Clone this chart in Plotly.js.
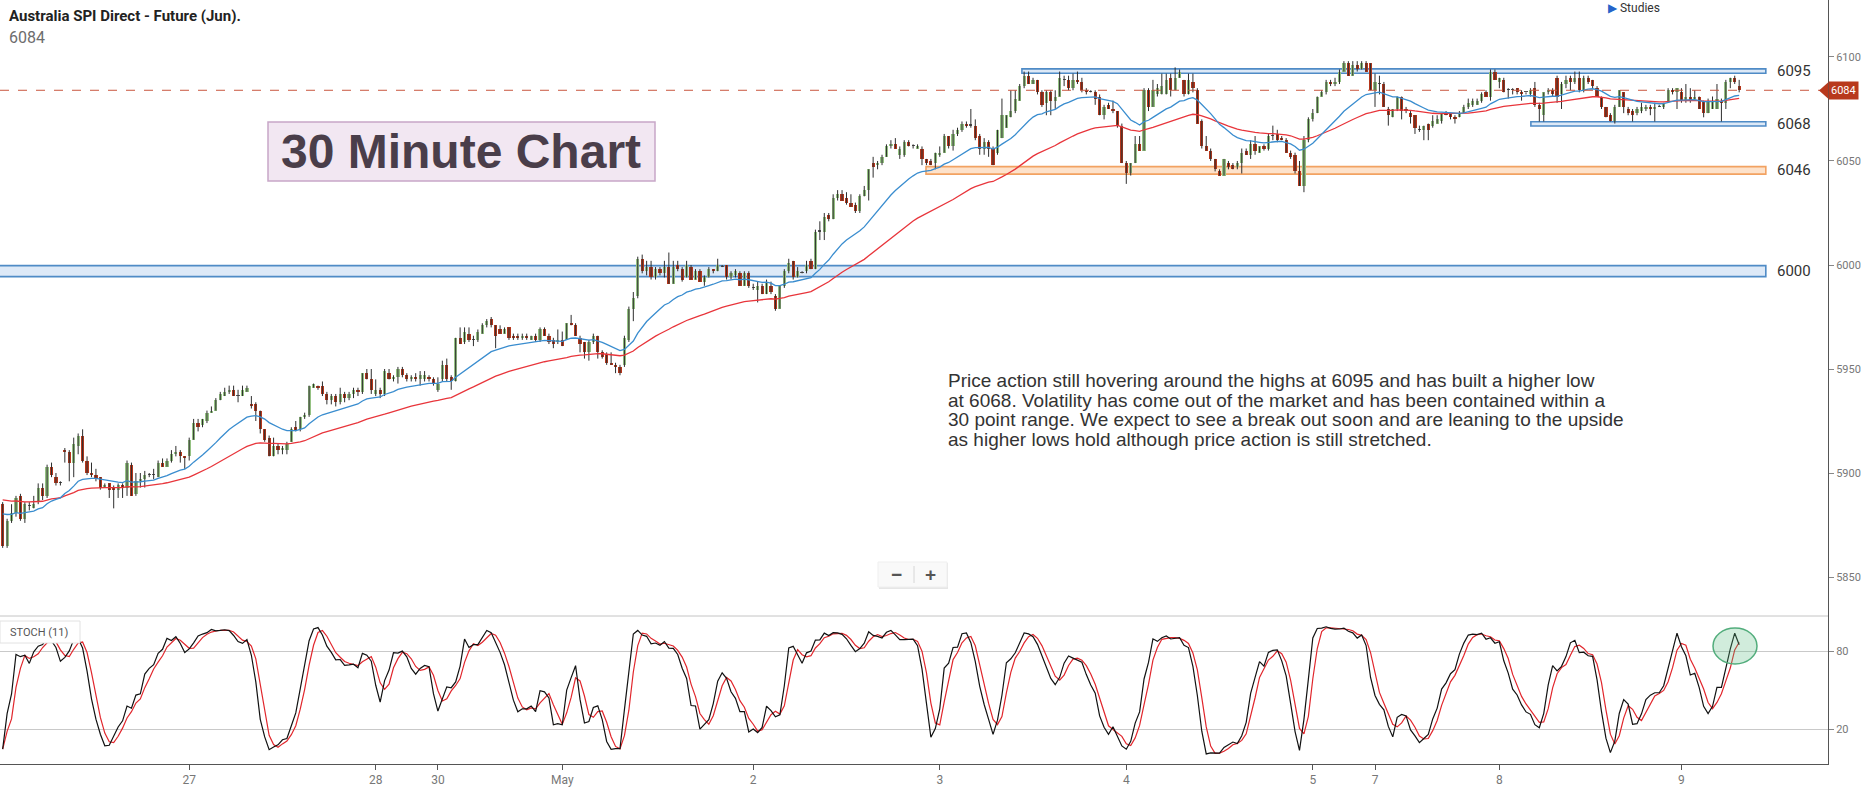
<!DOCTYPE html>
<html><head><meta charset="utf-8">
<script src="https://cdn.plot.ly/plotly-3.0.1.min.js"></script>
<style>html,body{margin:0;padding:0;background:#fff;overflow:hidden}#chart{width:1869px;height:793px}</style>
</head><body><div id="chart"></div>
<script>
// ---- 30-minute bars, Australia SPI 200 futures (Jun) ----
const opens = [
5885,5865,5877,5881,5889,5878,5884,5883,5886,5893,
5889,5903,5898,5895,5911,5910,5905,5913,5918,5906,
5900,5899,5898,5893,5895,5893,5892,5894,5893,5904,
5890,5896,5897,5899,5899,5898,5905,5903,5906,5909,
5910,5908,5908,5916,5924,5923,5925,5929,5930,5935,
5937,5939,5940,5937,5937,5939,5933,5933,5930,5921,
5917,5908,5913,5911,5911,5915,5922,5921,5927,5928,
5941,5942,5942,5938,5935,5937,5934,5938,5936,5938,
5940,5939,5948,5945,5938,5940,5938,5948,5945,5946,
5950,5947,5945,5946,5945,5945,5946,5945,5940,5945,
5952,5946,5944,5965,5963,5967,5964,5964,5967,5971,
5974,5971,5969,5967,5970,5966,5966,5965,5966,5964,
5966,5964,5969,5966,5964,5963,5964,5964,5972,5971,
5965,5963,5958,5963,5966,5958,5957,5953,5952,5951,
5952,5964,5979,5985,6003,5997,5999,5994,5998,5996,
5999,5991,6000,5998,5994,5999,5993,5997,5992,5994,
5998,5997,5999,6000,5994,5995,5996,5990,5996,5989,
5988,5990,5986,5990,5985,5979,5990,5997,6002,5994,
5996,5997,6002,5998,6016,6016,6024,6022,6032,6034,
6032,6030,6029,6026,6033,6036,6049,6048,6049,6052,
6057,6058,6053,6053,6059,6057,6056,6056,6051,6050,
6049,6053,6054,6062,6057,6063,6065,6068,6067,6067,
6062,6056,6059,6056,6054,6061,6066,6071,6074,6079,
6086,6091,6087,6089,6083,6078,6083,6079,6081,6089,
6089,6085,6089,6088,6084,6083,6083,6081,6072,6077,
6075,6074,6067,6049,6044,6049,6058,6055,6084,6076,
6082,6082,6082,6090,6084,6090,6089,6082,6088,6084,
6069,6057,6055,6051,6045,6043,6049,6048,6047,6049,
6055,6053,6058,6054,6057,6056,6062,6063,6061,6060,
6054,6053,6045,6038,6060,6070,6073,6081,6083,6088,
6087,6088,6093,6097,6091,6096,6094,6097,6097,6084,
6087,6087,6075,6071,6075,6081,6075,6073,6072,6065,
6065,6068,6067,6068,6069,6073,6073,6071,6071,6073,
6076,6077,6077,6079,6083,6081,6093,6088,6089,6084,
6084,6085,6083,6083,6082,6085,6077,6072,6083,6084,
6090,6082,6087,6090,6088,6090,6084,6090,6089,6085,
6081,6076,6072,6069,6076,6083,6075,6074,6073,6074,
6075,6076,6075,6076,6076,6079,6084,6083,6083,6079,
6081,6080,6081,6079,6073,6075,6075,6079,6078,6088,
6090,6086];
const highs = [
5886,5878,5885,5889,5890,5886,5886,5889,5895,5895,
5904,5905,5900,5896,5912,5911,5917,5919,5921,5908,
5905,5902,5898,5895,5895,5894,5895,5895,5906,5905,
5900,5900,5901,5900,5902,5906,5907,5907,5911,5913,
5911,5908,5917,5926,5926,5926,5930,5932,5936,5939,
5941,5942,5942,5940,5942,5942,5937,5934,5930,5921,
5918,5917,5914,5913,5915,5922,5925,5927,5929,5942,
5943,5942,5944,5939,5938,5938,5941,5939,5939,5941,
5941,5948,5950,5950,5945,5941,5950,5950,5947,5951,
5951,5948,5947,5948,5949,5949,5947,5946,5946,5954,
5955,5947,5965,5970,5970,5970,5966,5969,5972,5974,
5975,5971,5971,5970,5970,5967,5967,5967,5967,5966,
5967,5970,5970,5967,5965,5969,5968,5972,5976,5972,
5966,5963,5964,5967,5966,5959,5958,5958,5953,5952,
5966,5980,5987,6004,6005,6002,6002,5999,5999,6002,
6006,6002,6002,5999,6002,6000,5998,5998,5995,5999,
5998,6003,6000,6000,5997,5998,5997,5997,5997,5991,
5992,5991,5993,5992,5986,5990,5998,6003,6002,5999,
5997,6002,6003,6017,6021,6025,6025,6034,6036,6036,
6035,6034,6030,6034,6038,6046,6052,6050,6053,6058,
6060,6061,6057,6060,6060,6058,6058,6057,6051,6051,
6054,6057,6063,6062,6065,6066,6069,6069,6075,6070,
6063,6061,6060,6057,6065,6080,6072,6084,6084,6087,
6093,6093,6090,6089,6084,6084,6084,6084,6093,6091,
6091,6092,6093,6090,6085,6084,6084,6082,6077,6078,
6079,6074,6068,6050,6049,6062,6062,6085,6085,6089,
6087,6092,6092,6092,6095,6094,6089,6092,6092,6085,
6070,6062,6056,6051,6046,6051,6050,6049,6050,6056,
6056,6060,6062,6057,6058,6063,6067,6065,6062,6061,
6055,6054,6050,6062,6071,6075,6081,6084,6089,6089,
6090,6094,6098,6098,6098,6098,6098,6098,6097,6092,
6091,6088,6076,6075,6081,6081,6076,6074,6072,6067,
6067,6068,6072,6072,6073,6074,6073,6072,6074,6077,
6080,6080,6080,6083,6084,6094,6094,6090,6090,6085,
6085,6085,6084,6083,6085,6088,6078,6083,6085,6085,
6091,6088,6091,6091,6093,6093,6091,6091,6089,6086,
6081,6076,6073,6077,6084,6083,6076,6075,6076,6078,
6077,6077,6078,6077,6078,6085,6085,6085,6085,6087,
6085,6084,6081,6079,6080,6081,6087,6080,6089,6090,
6091,6089];
const lows = [
5864,5864,5876,5879,5877,5876,5882,5883,5885,5887,
5888,5898,5894,5894,5905,5896,5898,5909,5905,5899,
5898,5896,5892,5893,5888,5883,5888,5888,5889,5889,
5889,5893,5893,5898,5897,5898,5903,5903,5905,5908,
5905,5902,5906,5916,5920,5922,5924,5929,5930,5935,
5937,5938,5937,5934,5937,5939,5931,5925,5919,5915,
5908,5908,5909,5909,5909,5915,5920,5920,5926,5927,
5941,5940,5937,5933,5933,5932,5933,5934,5935,5936,
5937,5938,5945,5938,5937,5936,5937,5945,5944,5943,
5946,5944,5944,5944,5942,5944,5944,5942,5939,5944,
5944,5940,5944,5962,5962,5963,5961,5963,5967,5970,
5970,5960,5967,5967,5964,5964,5964,5964,5964,5964,
5963,5963,5966,5962,5960,5962,5961,5964,5971,5966,
5958,5955,5954,5962,5955,5955,5952,5952,5948,5947,
5951,5963,5973,5984,5996,5995,5993,5993,5995,5994,
5991,5991,5997,5992,5994,5993,5993,5992,5990,5994,
5996,5997,5999,5993,5993,5994,5990,5990,5989,5988,
5982,5986,5986,5986,5978,5979,5989,5996,5993,5994,
5996,5996,5998,5998,6012,6012,6021,6022,6031,6031,
6029,6028,6025,6025,6033,6031,6042,6046,6048,6052,
6056,6056,6051,6052,6057,6056,6056,6048,6048,6048,
6046,6052,6054,6056,6055,6062,6064,6066,6066,6060,
6053,6053,6052,6048,6053,6061,6066,6071,6073,6079,
6085,6087,6087,6082,6076,6072,6072,6075,6081,6086,
6084,6084,6087,6083,6082,6083,6077,6072,6070,6075,
6073,6066,6049,6039,6043,6049,6055,6055,6074,6076,
6081,6082,6082,6081,6084,6090,6081,6082,6083,6068,
6056,6055,6050,6045,6043,6043,6046,6046,6046,6044,
6053,6051,6053,6054,6055,6055,6060,6059,6060,6054,
6051,6044,6038,6035,6059,6069,6073,6081,6082,6086,
6086,6087,6093,6091,6091,6093,6094,6093,6084,6076,
6082,6076,6067,6071,6074,6070,6073,6068,6063,6064,
6060,6060,6066,6068,6068,6072,6070,6068,6071,6073,
6075,6076,6077,6078,6081,6079,6089,6085,6083,6080,
6082,6082,6079,6082,6081,6076,6069,6069,6082,6081,
6078,6075,6085,6084,6087,6083,6083,6087,6085,6081,
6075,6071,6069,6068,6076,6073,6072,6069,6072,6073,
6074,6072,6069,6076,6075,6078,6082,6075,6078,6078,
6078,6079,6075,6071,6073,6075,6075,6069,6075,6085,
6087,6083];
const closes = [
5865,5877,5881,5888,5878,5885,5884,5885,5893,5889,
5903,5899,5895,5895,5910,5905,5914,5918,5906,5900,
5899,5897,5893,5894,5892,5892,5894,5893,5905,5889,
5896,5897,5899,5899,5899,5905,5903,5906,5909,5910,
5908,5907,5916,5924,5922,5926,5929,5930,5935,5938,
5939,5940,5937,5937,5940,5941,5932,5930,5921,5916,
5908,5913,5911,5912,5914,5921,5920,5927,5928,5942,
5943,5941,5938,5935,5937,5934,5938,5936,5938,5940,
5939,5948,5945,5940,5940,5938,5949,5945,5946,5950,
5947,5945,5946,5945,5947,5947,5945,5943,5943,5952,
5945,5944,5965,5962,5968,5964,5964,5968,5971,5973,
5971,5966,5967,5969,5965,5965,5965,5966,5965,5966,
5964,5969,5966,5963,5962,5964,5961,5972,5971,5966,
5962,5958,5963,5966,5958,5956,5953,5952,5951,5948,
5965,5979,5984,6003,5997,5999,5994,5998,5996,5999,
5991,5999,5998,5993,6000,5993,5997,5992,5994,5998,
5997,6000,5999,5994,5996,5997,5990,5996,5990,5989,
5990,5986,5992,5987,5979,5990,5997,6001,5994,5997,
5996,6000,5998,6016,6016,6023,6022,6032,6034,6031,
6030,6028,6026,6033,6036,6046,6047,6049,6052,6057,
6058,6056,6056,6059,6057,6057,6057,6051,6049,6048,
6054,6054,6062,6057,6063,6065,6068,6067,6067,6061,
6056,6059,6056,6048,6065,6072,6072,6074,6080,6086,
6091,6087,6089,6083,6077,6083,6079,6081,6090,6089,
6085,6089,6088,6084,6083,6083,6080,6072,6076,6075,
6074,6067,6049,6044,6049,6058,6055,6084,6076,6084,
6085,6086,6089,6084,6090,6093,6082,6089,6085,6068,
6057,6055,6051,6046,6043,6051,6047,6046,6049,6054,
6053,6058,6055,6057,6056,6062,6062,6060,6060,6054,
6052,6045,6038,6060,6070,6073,6081,6083,6088,6087,
6088,6093,6097,6091,6096,6094,6097,6093,6084,6088,
6087,6076,6072,6075,6081,6074,6074,6071,6066,6065,
6067,6065,6069,6070,6073,6072,6071,6070,6073,6076,
6078,6079,6079,6082,6081,6093,6089,6090,6083,6084,
6084,6083,6082,6083,6084,6077,6075,6083,6084,6082,
6081,6087,6089,6088,6090,6084,6090,6088,6086,6081,
6076,6071,6069,6076,6084,6076,6073,6072,6075,6076,
6076,6075,6076,6076,6078,6084,6083,6085,6079,6081,
6079,6081,6075,6073,6079,6079,6080,6078,6088,6090,
6088,6084];

// x-axis day labels (bar index of each day's first bar)
const dayTickBars = [42, 84, 98, 126, 169, 211, 253, 295, 309, 337, 378];
const dayTickLabels = ['27', '28', '30', 'May', '2', '3', '4', '5', '7', '8', '9'];
const priceTicks = [5850, 5900, 5950, 6000, 6050, 6100];
const stochTicks = [20, 80];

// support / resistance zones drawn on the chart
const zoneLabels = ['6095', '6068', '6046', '6000'];
const zoneLow = [6092.2, 6066.8, 6043.7, 5994.4];
const zoneHigh = [6094.3, 6068.9, 6047.3, 5999.7];
const zoneFromBar = [229.5, 344.1, 207.9, -1];
const zoneToBar = [397, 397, 397, 397];
const zoneKind = ['blue', 'blue', 'orange', 'blue'];

// study settings (EMA 20 / EMA 50, stochastic 11) and EMA values at the first bar
const fastEmaLen = 20, slowEmaLen = 50, stochLen = 11;
const fastEmaFirst = 5882, slowEmaFirst = 5888;

const noteLines = [
  'Price action still hovering around the highs at 6095 and has built a higher low',
  'at 6068. Volatility has come out of the market and has been contained within a',
  '30 point range. We expect to see a break out soon and are leaning to the upside',
  'as higher lows hold although price action is still stretched.'
];

// ---------------- derived series ----------------
const bars = closes.map((_, i) => i);
const lastPrice = closes[closes.length - 1];

function ema(src, len, first) {
  const a = 2 / (len + 1); let v = first;
  return src.map(c => (v = v + a * (c - v)));
}
function sma(arr, n) {
  return arr.map((_, i) => { const s = Math.max(0, i - n + 1); let t = 0; for (let j = s; j <= i; j++) t += arr[j]; return t / (i - s + 1); });
}
const rawK = closes.map((c, i) => {
  const s = Math.max(0, i - stochLen + 1); let hh = -Infinity, ll = Infinity;
  for (let j = s; j <= i; j++) { hh = Math.max(hh, highs[j]); ll = Math.min(ll, lows[j]); }
  return hh > ll ? 100 * (c - ll) / (hh - ll) : 50;
});
const stochK = sma(rawK, 3);
const stochD = sma(stochK, 3);
const emaFast = ema(closes, fastEmaLen, fastEmaFirst);
const emaSlow = ema(closes, slowEmaLen, slowEmaFirst);

const UP = '#95c283', DOWN = '#b5371c', FLAT = '#555';
const bodyBase = bars.map(i => Math.min(opens[i], closes[i]));
const bodySize = bars.map(i => Math.max(Math.abs(closes[i] - opens[i]), 0.6));
const bodyColor = bars.map(i => closes[i] > opens[i] ? UP : (closes[i] < opens[i] ? DOWN : FLAT));
const wickX = [], wickY = [];
bars.forEach(i => { wickX.push(i, i, null); wickY.push(lows[i], highs[i], null); });

const traces = [
  {type: 'scatter', mode: 'lines', x: wickX, y: wickY, xaxis: 'x', yaxis: 'y', line: {color: '#2e2e2e', width: 1}, hoverinfo: 'skip'},
  {type: 'bar', x: bars, y: bodySize, base: bodyBase, width: 0.72, xaxis: 'x', yaxis: 'y', marker: {color: bodyColor, line: {width: 0}}, hoverinfo: 'skip'},
  {type: 'scatter', mode: 'lines', x: bars, y: emaSlow, xaxis: 'x', yaxis: 'y', line: {color: '#e8353b', width: 1.3}, hoverinfo: 'skip'},
  {type: 'scatter', mode: 'lines', x: bars, y: emaFast, xaxis: 'x', yaxis: 'y', line: {color: '#3a8dcf', width: 1.3}, hoverinfo: 'skip'},
  {type: 'scatter', mode: 'lines', x: bars, y: stochD, xaxis: 'x', yaxis: 'y2', line: {color: '#e1262c', width: 1.2}, hoverinfo: 'skip'},
  {type: 'scatter', mode: 'lines', x: bars, y: stochK, xaxis: 'x', yaxis: 'y2', line: {color: '#111', width: 1.2}, hoverinfo: 'skip'}
];

// plot area: 1828 x 764 px (margins r=41, b=29)
const PW = 1828, PH = 764;
const px = v => v / PW, py = v => 1 - v / PH;
const SPLIT = py(616);

const shapes = [];
zoneLabels.forEach((_, k) => {
  const blue = zoneKind[k] === 'blue';
  shapes.push({type: 'rect', xref: 'x', yref: 'y', x0: zoneFromBar[k], x1: zoneToBar[k], y0: zoneLow[k], y1: zoneHigh[k],
    fillcolor: blue ? '#dde9f7' : '#fde2cb', line: {color: blue ? '#4f8bc6' : '#f2a262', width: 1.6}, layer: 'below'});
});
shapes.push({type: 'line', xref: 'paper', yref: 'y', x0: 0, x1: 1, y0: lastPrice, y1: lastPrice, line: {color: '#c9573f', width: 1, dash: 'dash'}});
shapes.push({type: 'line', xref: 'paper', yref: 'paper', x0: 0, x1: 1, y0: SPLIT, y1: SPLIT, line: {color: '#c4c4c4', width: 1}});
shapes.push({type: 'path', xref: 'paper', yref: 'paper', path: `M ${px(1819)} ${py(90.5)} L ${px(1828)} ${py(82.5)} L ${px(1828)} ${py(98.5)} Z`, fillcolor: '#b8391c', line: {width: 0}});
shapes.push({type: 'rect', xref: 'paper', yref: 'paper', x0: px(268), x1: px(655), y0: py(181), y1: py(122), fillcolor: '#f2e7f2', line: {color: '#c7a7c7', width: 1.5}});
// zoom buttons (soft box with bottom shadow)
shapes.push({type: 'rect', xref: 'paper', yref: 'paper', x0: px(879), x1: px(948), y0: py(589), y1: py(563), fillcolor: '#e6e6e6', line: {width: 0}});
shapes.push({type: 'rect', xref: 'paper', yref: 'paper', x0: px(878), x1: px(947), y0: py(587), y1: py(562), fillcolor: '#f9f9f9', line: {color: '#efefef', width: 1}});
shapes.push({type: 'line', xref: 'paper', yref: 'paper', x0: px(914), x1: px(914), y0: py(583), y1: py(566), line: {color: '#d6d6d6', width: 1}});
shapes.push({type: 'rect', xref: 'paper', yref: 'paper', x0: px(0), x1: px(80), y0: py(643), y1: py(621), fillcolor: '#ffffff', line: {color: '#e2e2e2', width: 1}});
shapes.push({type: 'circle', xref: 'paper', yref: 'paper', x0: px(1713), x1: px(1757), y0: py(664), y1: py(628), fillcolor: 'rgba(90,185,130,0.28)', line: {color: '#52ad7c', width: 1.5}});

const SANS = 'Liberation Sans, Arial, sans-serif';
const ROBO = 'Roboto, Liberation Sans, sans-serif';
const NARROW = 'Liberation Sans Narrow, Roboto, sans-serif';
const annotations = [
  {xref: 'paper', yref: 'paper', x: px(7), y: py(16), xanchor: 'left', yanchor: 'middle', showarrow: false, text: '<b>Australia SPI Direct - Future (Jun).</b>', font: {family: NARROW, size: 15, color: '#222'}},
  {xref: 'paper', yref: 'paper', x: px(7), y: py(38), xanchor: 'left', yanchor: 'middle', showarrow: false, text: String(lastPrice), font: {family: NARROW, size: 16, color: '#6d6d6d'}},
  {xref: 'paper', yref: 'paper', x: px(1606), y: py(8), xanchor: 'left', yanchor: 'middle', showarrow: false, text: '<span style="color:#2563c9">&#9654;</span> Studies', font: {family: ROBO, size: 12, color: '#333'}},
  {xref: 'paper', yref: 'paper', x: px(461), y: py(151), xanchor: 'center', yanchor: 'middle', showarrow: false, text: '<b>30 Minute Chart</b>', font: {family: SANS, size: 48, color: '#4a3e4a'}},
  {xref: 'paper', yref: 'y', x: px(1843.5), y: lastPrice, xanchor: 'center', yanchor: 'middle', showarrow: false, text: String(lastPrice), bgcolor: '#b8391c', borderpad: 2, font: {family: ROBO, size: 11, color: '#fff'}},
  {xref: 'paper', yref: 'paper', x: px(8), y: py(632), xanchor: 'left', yanchor: 'middle', showarrow: false, text: 'STOCH (11)', font: {family: ROBO, size: 11, color: '#555'}},
  {xref: 'paper', yref: 'paper', x: px(896), y: py(574), xanchor: 'center', yanchor: 'middle', showarrow: false, text: '<b>\u2212</b>', font: {family: SANS, size: 19, color: '#555'}},
  {xref: 'paper', yref: 'paper', x: px(930), y: py(574), xanchor: 'center', yanchor: 'middle', showarrow: false, text: '<b>+</b>', font: {family: SANS, size: 19, color: '#555'}}
];
zoneLabels.forEach((t, k) => annotations.push({xref: 'paper', yref: 'y', x: px(1775), y: (zoneLow[k] + zoneHigh[k]) / 2, xanchor: 'left', yanchor: 'middle', showarrow: false, text: t, font: {family: ROBO, size: 15, color: '#333'}}));
const lineCenters = [380.5, 400, 419.5, 439];
noteLines.forEach((t, k) => annotations.push({xref: 'paper', yref: 'paper', x: px(946), y: py(lineCenters[k]), xanchor: 'left', yanchor: 'middle', showarrow: false, text: t, font: {family: SANS, size: 19, color: '#333'}}));

const axisTickFont = {family: ROBO, size: 11, color: '#777'};
const layout = {
  width: 1869, height: 793,
  margin: {l: 0, r: 41, t: 0, b: 29, pad: 0},
  paper_bgcolor: '#fff', plot_bgcolor: '#fff',
  showlegend: false, hovermode: false, dragmode: false,
  xaxis: {anchor: 'y2', domain: [0, 1], range: [-0.6, 411], showgrid: false, zeroline: false,
    showline: true, linecolor: '#555', linewidth: 1, ticks: 'outside', ticklen: 5, tickcolor: '#555',
    tickmode: 'array', tickvals: dayTickBars, ticktext: dayTickLabels, tickfont: {family: ROBO, size: 12, color: '#777'}},
  yaxis: {anchor: 'x', domain: [SPLIT, 1], range: [5831.25, 6127.4], side: 'right', showgrid: false, zeroline: false,
    showline: true, linecolor: '#555', linewidth: 1, ticks: 'outside', ticklen: 5, tickcolor: '#888',
    tickmode: 'array', tickvals: priceTicks, tickfont: axisTickFont},
  yaxis2: {anchor: 'x', domain: [0, SPLIT], range: [-6.9, 107], side: 'right', showgrid: true, gridcolor: '#c9c9c9', zeroline: false,
    showline: true, linecolor: '#555', linewidth: 1, ticks: 'outside', ticklen: 5, tickcolor: '#888',
    tickmode: 'array', tickvals: stochTicks, tickfont: axisTickFont},
  bargap: 0,
  shapes: shapes,
  annotations: annotations
};
Plotly.newPlot('chart', traces, layout, {displayModeBar: false, staticPlot: true});
</script>
</body></html>
